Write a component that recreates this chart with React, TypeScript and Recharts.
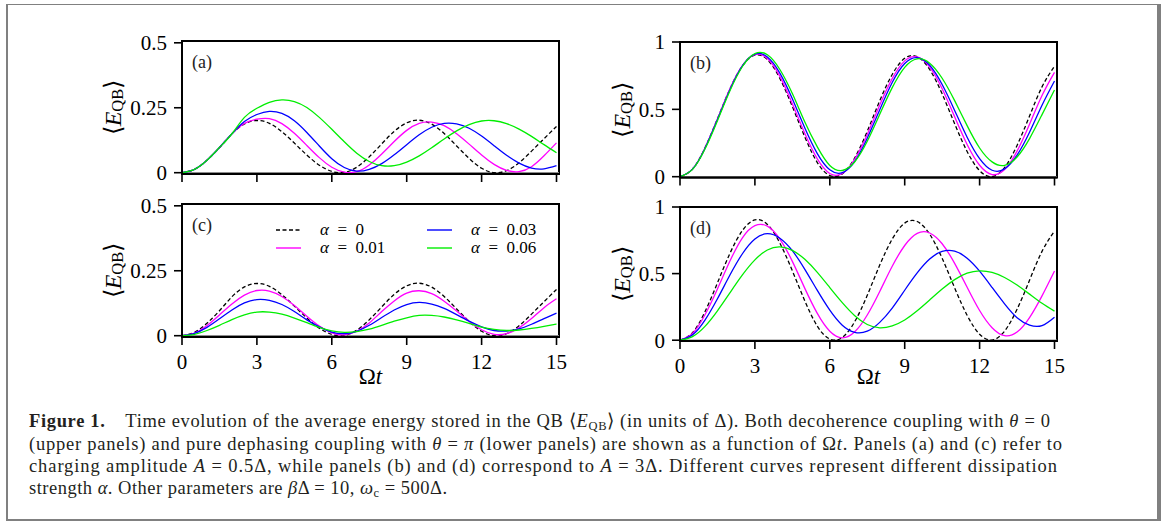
import React from 'react';
import { LineChart, Line, XAxis, YAxis, ReferenceLine, ReferenceArea, Legend } from 'recharts';

// ---------- data ----------
const TIME = [0, 0.5, 1, 1.5, 2, 2.5, 3, 3.5, 4, 4.5, 5, 5.5, 6, 6.5, 7, 7.5, 8, 8.5, 9, 9.5, 10, 10.5, 11, 11.5, 12, 12.5, 13, 13.5, 14, 14.5, 15];
const X_TICKS = [0, 3, 6, 9, 12, 15];
const Y_TICKS_WEAK = [0, 0.25, 0.5];
const Y_TICKS_STRONG = [0, 0.5, 1];
const ALPHA_LABELS = ['0', '0.01', '0.03', '0.06'];
const SERIES_COLORS = ['#000000', '#ff00ff', '#0000ff', '#00ee00'];
const PANEL_LETTERS = ['a', 'b', 'c', 'd'];

// A = 0.5 Delta, alpha = 0 (panels a and c)
const BLACK_WEAK = [0, .013, .048, .096, .15, .188, .201, .19, .158, .114, .068, .029, .005, .001, .021, .061, .111, .159, .192, .202, .187, .151, .103, .055, .017, 0, .008, .038, .083, .131, .178];
// panel (a)
const MAG_A = [0, .013, .048, .097, .15, .19, .206, .208, .189, .152, .105, .058, .021, .002, .004, .030, .072, .120, .163, .190, .195, .181, .150, .110, .068, .032, .009, .004, .023, .065, .115];
const BLUE_A = [0, .013, .048, .097, .15, .197, .224, .236, .228, .2, .155, .103, .054, .020, .006, .013, .035, .069, .108, .146, .175, .190, .188, .171, .141, .104, .067, .037, .018, .015, .027];
const GREEN_A = [0, .013, .048, .097, .15, .213, .248, .271, .28, .274, .251, .213, .167, .119, .075, .043, .027, .027, .041, .065, .096, .130, .161, .185, .199, .200, .189, .168, .140, .108, .077];
// panel (c)
const MAG_C = [0, .010, .039, .080, .122, .156, .174, .172, .151, .116, .075, .037, .011, .003, .017, .049, .093, .134, .164, .173, .162, .133, .095, .055, .023, .005, .008, .030, .066, .108, .142];
const BLUE_C = [0, .009, .032, .065, .099, .126, .139, .136, .12, .093, .061, .034, .014, .008, .017, .04, .070, .099, .120, .128, .122, .105, .081, .056, .034, .02, .018, .026, .044, .066, .087];
const GREEN_C = [0, .005, .02, .04, .062, .08, .091, .091, .083, .068, .05, .032, .019, .013, .016, .025, .040, .056, .069, .078, .078, .072, .061, .047, .033, .024, .02, .022, .028, .036, .045];
// A = 3 Delta, alpha = 0 (panels b and d)
const BLACK_STRONG = [0, .056, .214, .430, .652, .823, .903, .869, .729, .521, .295, .105, .009, .021, .140, .337, .564, .759, .879, .891, .796, .615, .393, .187, .045, .001, .068, .232, .45, .667, .82];
// panel (b)
const MAG_B = [0, .056, .213, .428, .652, .824, .906, .878, .745, .542, .32, .132, .024, .024, .13, .313, .532, .728, .86, .889, .813, .653, .445, .239, .085, .016, .053, .19, .39, .603, .775];
const BLUE_B = [0, .056, .21, .424, .646, .823, .91, .889, .769, .578, .361, .171, .051, .03, .114, .286, .497, .699, .84, .883, .827, .684, .492, .293, .134, .048, .058, .16, .33, .53, .71];
const GREEN_B = [0, .054, .205, .416, .638, .818, .914, .905, .796, .617, .406, .221, .083, .046, .111, .263, .463, .661, .812, .875, .843, .731, .565, .379, .213, .11, .084, .146, .283, .461, .644];
// panel (d)
const MAG_D = [0, .05, .191, .385, .594, .769, .86, .856, .759, .592, .389, .201, .067, .018, .063, .189, .366, .555, .711, .802, .805, .724, .577, .398, .223, .094, .034, .061, .17, .333, .52];
const BLUE_D = [0, .04, .151, .311, .489, .649, .76, .8, .766, .672, .532, .374, .226, .113, .059, .068, .134, .241, .375, .505, .609, .666, .668, .615, .518, .396, .273, .169, .114, .11, .173];
const GREEN_D = [0, .027, .104, .221, .356, .49, .603, .677, .7, .674, .607, .509, .395, .282, .184, .118, .093, .108, .152, .221, .302, .384, .455, .503, .521, .509, .471, .414, .346, .277, .218];

// ---------- styling ----------
const SERIF = '"Liberation Serif", "Times New Roman", serif';
const X_DOMAIN: [number, number] = [0, 15.1];
const YW = 95;
const MT = 14;
const MR = 12;

type Spec = {
  letter: string;
  left: number;
  top: number;
  w: number;
  h: number;
  yDomain: [number, number];
  yTicks: number[];
  series: number[][];
  bottom: boolean;
  legend: boolean;
  yLabelOff: number;
  omegaOff: number;
};

const makeYLabel = (off: number) => (props: any) => {
  const vb = props.viewBox || { x: 0, y: 0, width: 0, height: 0 };
  const cx = vb.x + vb.width - off;
  const cy = vb.y + vb.height / 2;
  return (
    <text x={cx} y={cy} transform={`rotate(-90 ${cx} ${cy})`} textAnchor="middle" dominantBaseline="central"
      fontFamily={SERIF} fontSize={24} fill="#000">
      {'\u27E8'}<tspan fontStyle="italic">E</tspan><tspan fontSize={16.5} dy={4}>QB</tspan><tspan dy={-4}>{'\u27E9'}</tspan>
    </text>
  );
};

const makeLetterLabel = (letter: string) => (props: any) => {
  const vb = props.viewBox || { x: 0, y: 0, width: 0, height: 0 };
  return (
    <text x={vb.x + 10} y={vb.y + 27} fontFamily={SERIF} fontSize={18} fill="#222">
      ({letter})
    </text>
  );
};

const makeOmegaLabel = (off: number) => (props: any) => {
  const vb = props.viewBox || { x: 0, y: 0, width: 0, height: 0 };
  return (
    <text x={vb.x + vb.width / 2} y={vb.y + off} textAnchor="middle" fontFamily={SERIF} fontSize={23} fill="#000">
      {'\u03A9'}<tspan fontStyle="italic">t</tspan>
    </text>
  );
};

const renderLegend = (props: any) => {
  const items: any[] = props.payload || [];
  return (
    <div style={{ display: 'grid', gridTemplateColumns: '151px auto', gridTemplateRows: '18px 18px', gridAutoFlow: 'column', fontFamily: SERIF, fontSize: 17, color: '#000', lineHeight: '18px' }}>
      {items.map((it, i) => {
        const dashed = (it.payload && it.payload.strokeDasharray) || (i === 0 ? '4 2.5' : undefined);
        return (
          <div key={i} style={{ display: 'flex', alignItems: 'center', height: 18, whiteSpace: 'nowrap' }}>
            <svg width={25} height={10} style={{ display: 'block' }}>
              <line x1={0} y1={5} x2={25} y2={5} stroke={it.color} strokeWidth={1.4} strokeDasharray={dashed} />
            </svg>
            <span style={{ marginLeft: 19 }}>
              <i>{'\u03B1'}</i>{'\u2002=\u2002'}{it.value}
            </span>
          </div>
        );
      })}
    </div>
  );
};

function Panel({ spec }: { spec: Spec }) {
  const XH = spec.bottom ? 52 : 14;
  const width = YW + spec.w + MR;
  const height = MT + spec.h + XH;
  const rows = TIME.map((t, i) => {
    const r: any = { t };
    spec.series.forEach((s, k) => {
      r['s' + k] = s[i];
    });
    return r;
  });
  const axisLine = { stroke: '#000', strokeWidth: 2 };
  const tickLine = { stroke: '#000', strokeWidth: 1.6 };
  const tickStyle = { fill: '#000', fontSize: 21, fontFamily: SERIF };
  return (
    <div style={{ position: 'absolute', left: spec.left - YW, top: spec.top - MT, width, height }}>
      <LineChart width={width} height={height} data={rows} margin={{ top: MT, right: MR, bottom: 0, left: 0 }}>
        <XAxis dataKey="t" type="number" domain={X_DOMAIN} ticks={X_TICKS} allowDataOverflow interval={0}
          axisLine={axisLine} tickLine={tickLine} tickSize={8} tickMargin={9} tick={tickStyle}
          tickFormatter={spec.bottom ? (v: any) => String(v) : () => ''} height={XH}
          label={spec.bottom ? makeOmegaLabel(spec.omegaOff) : undefined} />
        <YAxis type="number" domain={spec.yDomain} ticks={spec.yTicks} allowDataOverflow interval={0} width={YW}
          axisLine={axisLine} tickLine={tickLine} tickSize={8} tickMargin={7} tick={tickStyle}
          tickFormatter={(v: any) => String(v)} label={makeYLabel(spec.yLabelOff)} />
        <ReferenceArea x1={X_DOMAIN[0]} x2={X_DOMAIN[1]} y1={spec.yDomain[0]} y2={spec.yDomain[1]}
          fill="none" fillOpacity={0} stroke="#000" strokeWidth={2} ifOverflow="visible"
          label={makeLetterLabel(spec.letter)} />
        <ReferenceLine y={0} stroke="#8c8c8c" strokeWidth={1.3} />
        {spec.series.map((_, k) => (
          <Line key={k} dataKey={'s' + k} name={ALPHA_LABELS[k]} stroke={SERIES_COLORS[k]} strokeWidth={1.3}
            strokeDasharray={k === 0 ? '4 2.5' : undefined} type="natural" dot={false} activeDot={false}
            isAnimationActive={false} />
        ))}
        {spec.legend && (
          <Legend layout="horizontal" verticalAlign="middle" align="center" content={renderLegend}
            wrapperStyle={{ left: 189, top: 31, width: 'auto', height: 'auto', bottom: 'auto', right: 'auto' }} />
        )}
      </LineChart>
    </div>
  );
}

const SPECS: Spec[] = [
  { letter: PANEL_LETTERS[0], left: 182, top: 41, w: 377, h: 133, yDomain: [-0.005, 0.507], yTicks: Y_TICKS_WEAK, series: [BLACK_WEAK, MAG_A, BLUE_A, GREEN_A], bottom: false, legend: false, yLabelOff: 69, omegaOff: 0 },
  { letter: PANEL_LETTERS[1], left: 679.5, top: 42, w: 377, h: 135.5, yDomain: [-0.006, 1.0], yTicks: Y_TICKS_STRONG, series: [BLACK_STRONG, MAG_B, BLUE_B, GREEN_B], bottom: false, legend: false, yLabelOff: 58, omegaOff: 0 },
  { letter: PANEL_LETTERS[2], left: 182, top: 204, w: 377, h: 133, yDomain: [-0.005, 0.507], yTicks: Y_TICKS_WEAK, series: [BLACK_WEAK, MAG_C, BLUE_C, GREEN_C], bottom: true, legend: true, yLabelOff: 69, omegaOff: 47 },
  { letter: PANEL_LETTERS[3], left: 679.5, top: 207, w: 377, h: 134, yDomain: [-0.006, 1.0], yTicks: Y_TICKS_STRONG, series: [BLACK_STRONG, MAG_D, BLUE_D, GREEN_D], bottom: true, legend: false, yLabelOff: 58, omegaOff: 43 },
];

function Caption() {
  const common = { fontFamily: SERIF, fontSize: 18.5, fill: '#231f20' } as any;
  const it = { fontStyle: 'italic' } as any;
  return (
    <svg width={1165} height={521} style={{ position: 'absolute', left: 0, top: 0, pointerEvents: 'none' }}>
      <text x={29} y={427.3} textLength={1021} lengthAdjust="spacing" {...common}>
        <tspan fontWeight="bold">Figure 1.</tspan>
        <tspan>{'\u2002\u2002Time evolution of the average energy stored in the QB \u27E8'}</tspan>
        <tspan {...it}>E</tspan>
        <tspan fontSize={12.5} dy={3}>QB</tspan>
        <tspan dy={-3}>{'\u27E9 (in units of \u0394). Both decoherence coupling with '}</tspan>
        <tspan {...it}>{'\u03B8'}</tspan>
        <tspan>{' = 0'}</tspan>
      </text>
      <text x={29} y={449.5} textLength={1033} lengthAdjust="spacing" {...common}>
        <tspan>{'(upper panels) and pure dephasing coupling with '}</tspan>
        <tspan {...it}>{'\u03B8'}</tspan>
        <tspan>{' = '}</tspan>
        <tspan {...it}>{'\u03C0'}</tspan>
        <tspan>{' (lower panels) are shown as a function of \u03A9'}</tspan>
        <tspan {...it}>t</tspan>
        <tspan>{'. Panels (a) and (c) refer to'}</tspan>
      </text>
      <text x={29} y={471.5} textLength={1028} lengthAdjust="spacing" {...common}>
        <tspan>{'charging amplitude '}</tspan>
        <tspan {...it}>A</tspan>
        <tspan>{' = 0.5\u0394, while panels (b) and (d) correspond to '}</tspan>
        <tspan {...it}>A</tspan>
        <tspan>{' = 3\u0394. Different curves represent different dissipation'}</tspan>
      </text>
      <text x={29} y={493.5} textLength={418} lengthAdjust="spacing" {...common}>
        <tspan>{'strength '}</tspan>
        <tspan {...it}>{'\u03B1'}</tspan>
        <tspan>{'. Other parameters are '}</tspan>
        <tspan {...it}>{'\u03B2'}</tspan>
        <tspan>{'\u0394 = 10, '}</tspan>
        <tspan {...it}>{'\u03C9'}</tspan>
        <tspan fontSize={12.5} dy={3}>c</tspan>
        <tspan dy={-3}>{' = 500\u0394.'}</tspan>
      </text>
    </svg>
  );
}

export default function App() {
  return (
    <div style={{ position: 'absolute', left: 0, top: 0, width: 1165, height: 521, background: '#fff', overflow: 'hidden', fontFamily: SERIF }}>
      <div style={{ position: 'absolute', left: 6, top: 4, width: 1155, height: 517, boxSizing: 'border-box', borderStyle: 'solid', borderColor: '#808080', borderLeftWidth: 2, borderTopWidth: 1, borderRightWidth: 4, borderBottomWidth: 2 }} />
      {SPECS.map((s) => (
        <Panel key={s.letter} spec={s} />
      ))}
      <Caption />
    </div>
  );
}
